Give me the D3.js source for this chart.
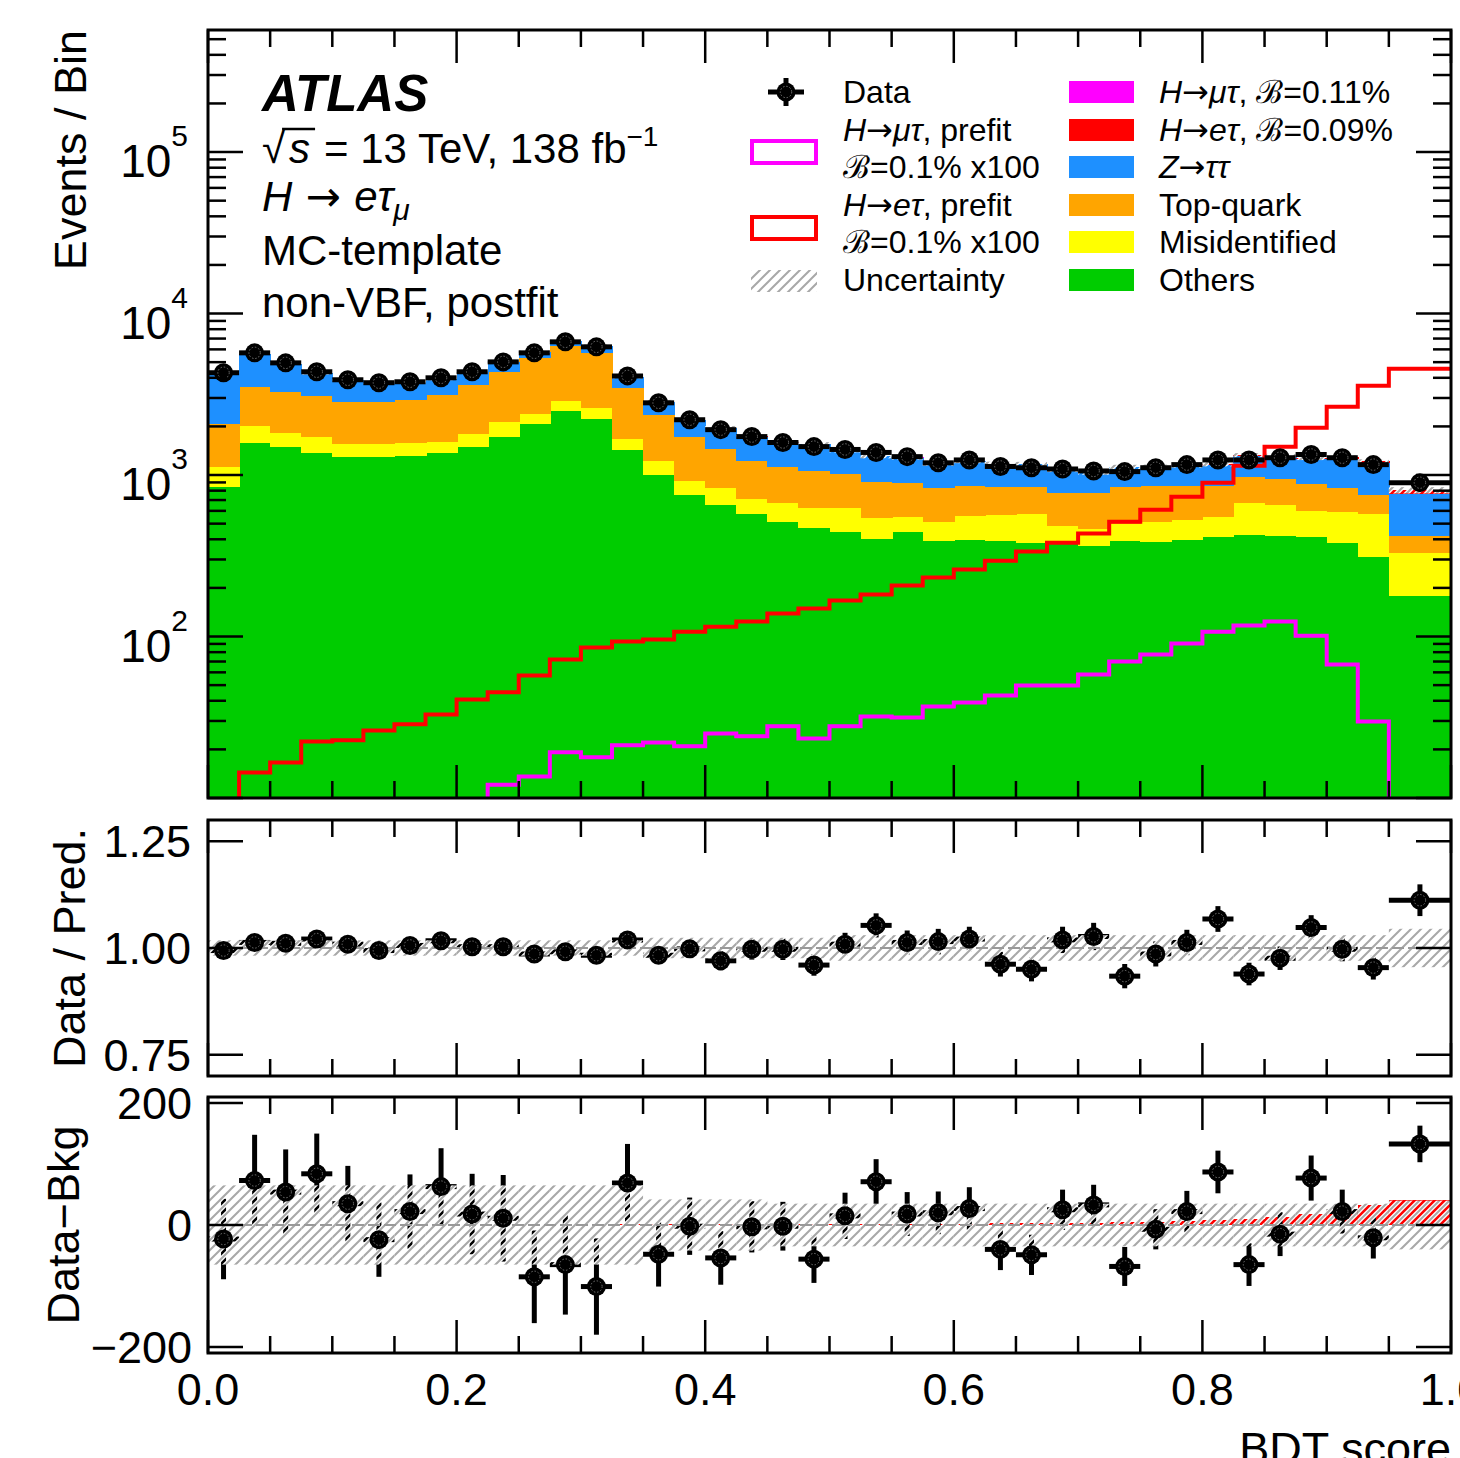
<!DOCTYPE html>
<html>
<head>
<meta charset="utf-8">
<script src="https://cdn.jsdelivr.net/npm/d3@7"></script>
<style>
  body { margin: 0; background: #fff; }
  svg { display: block; font-family: "Liberation Sans", Arial, Helvetica, sans-serif; }
</style>
</head>
<body>
<div id="chart"></div>
<script>
// bin edges of the BDT score
const binEdges = [0, 0.025, 0.05, 0.075, 0.1, 0.125, 0.15, 0.175, 0.2, 0.225, 0.25, 0.275, 0.3, 0.325, 0.35, 0.375, 0.4, 0.425, 0.45, 0.475,
                  0.5, 0.525, 0.55, 0.575, 0.6, 0.625, 0.65, 0.675, 0.7, 0.725, 0.75, 0.775, 0.8, 0.825, 0.85, 0.875, 0.9, 0.925, 0.95, 1.0];

const data = [4300, 5710, 4950, 4360, 3890, 3730, 3780, 4000, 4360, 5020, 5710, 6680, 6220, 4110, 2800, 2200, 1910, 1730, 1590, 1500,
              1440, 1380, 1300, 1190, 1240, 1130, 1110, 1090, 1060, 1050, 1110, 1160, 1240, 1240, 1280, 1340, 1280, 1160, 897];
const dataErr = [66, 75, 70, 66, 62, 61, 61, 63, 66, 71, 76, 82, 79, 64, 53, 47, 44, 42, 40, 39,
                 38, 37, 36, 35, 35, 34, 33, 33, 33, 32, 33, 34, 35, 35, 36, 37, 36, 34, 30];

// postfit backgrounds
const others = [847, 1585, 1497, 1375, 1298, 1298, 1317, 1375, 1497, 1727, 2077, 2500, 2231, 1435, 1005, 755, 655, 577, 514, 472,
                446, 404, 446, 393, 398, 393, 381, 376, 366, 393, 387, 398, 416, 428, 421, 416, 381, 312, 177];
const misid = [279, 433, 331, 352, 265, 265, 268, 233, 304, 411, 318, 384, 379, 242, 221, 168, 180, 137, 160, 156,
               182, 141, 107, 121, 162, 175, 196, 110, 100, 107, 127, 131, 137, 246, 234, 185, 212, 265, 154];
const topQuark = [951, 1501, 1447, 1370, 1279, 1279, 1339, 1533, 1820, 2219, 2923, 3426, 3104, 1792, 1136, 804, 620, 512, 452, 436,
                  391, 364, 344, 321, 299, 279, 270, 292, 312, 347, 345, 330, 306, 303, 294, 283, 242, 178, 90];
const ztautau = [2249, 2124, 1626, 1170, 1013, 905, 830, 791, 723, 652, 477, 434, 617, 567, 487, 476, 510, 506, 464, 495,
                 403, 397, 385, 339, 359, 325, 321, 293, 254, 271, 262, 279, 298, 338, 349, 373, 425, 428, 343];
// postfit signals
const sigETau = [0, 0.1, 0.15, 0.2, 0.2, 0.24, 0.26, 0.3, 0.37, 0.4, 0.5, 0.65, 0.77, 0.84, 0.86, 0.96, 1.0, 1.1, 1.25, 1.3,
                 1.5, 1.6, 1.9, 2.1, 2.3, 2.7, 3.0, 3.4, 3.9, 4.6, 5.5, 6.6, 8.1, 10, 13.5, 18, 24, 32, 41];
const sigMuTau = [0, 0, 0, 0, 0, 0, 0, 0, 0, 0.13, 0.15, 0.2, 0.2, 0.23, 0.24, 0.23, 0.28, 0.27, 0.3, 0.26,
                  0.3, 0.35, 0.35, 0.4, 0.43, 0.48, 0.55, 0.55, 0.64, 0.77, 0.85, 1.0, 1.2, 1.3, 1.4, 1.1, 0.74, 0.33, 0];
// prefit signals x100
const prefitETau = [0, 14.4, 16.6, 22.4, 22.8, 26.2, 28.6, 32.9, 40.8, 45.1, 57.4, 72.1, 85.5, 93.1, 95.8, 107, 115, 124, 139, 149,
                    167, 182, 207, 232, 260, 295, 336, 381, 434, 514, 610, 734, 897, 1142, 1497, 1963, 2647, 3569, 4548];
const prefitMuTau = [0, 0, 0, 0, 0, 0, 0, 0, 0, 12.1, 13.6, 19.2, 17.9, 21.2, 22.1, 20.9, 25.1, 24.1, 27.8, 23.4,
                     27.8, 32.0, 31.5, 36.9, 39.0, 43.2, 49.8, 49.8, 58.2, 70.0, 77.4, 90.5, 107, 117, 124, 101, 67.1, 29.8, 0];

// lower panels
const ratio = [0.994, 1.013, 1.011, 1.021, 1.009, 0.994, 1.006, 1.017, 1.003, 1.003, 0.986, 0.991, 0.983, 1.019, 0.983, 0.998, 0.970, 0.997, 0.997, 0.960,
               1.009, 1.053, 1.013, 1.015, 1.021, 0.962, 0.950, 1.019, 1.027, 0.934, 0.986, 1.013, 1.068, 0.939, 0.976, 1.048, 0.997, 0.954, 1.112];
const ratioUnc = [0.018, 0.018, 0.018, 0.018, 0.018, 0.018, 0.018, 0.018, 0.018, 0.018, 0.018, 0.018, 0.018, 0.018, 0.024, 0.024, 0.024, 0.024, 0.024, 0.024,
                  0.03, 0.03, 0.03, 0.03, 0.03, 0.03, 0.03, 0.03, 0.03, 0.03, 0.03, 0.03, 0.03, 0.03, 0.03, 0.03, 0.03, 0.03, 0.045];
const diff = [-23, 73, 54, 84, 35, -24, 22, 63, 18, 11, -85, -65, -101, 69, -48, -2, -54, -3, -2, -56,
              15, 71, 18, 20, 27, -40, -49, 25, 33, -68, -7, 22, 87, -65, -15, 77, 22, -21, 133];
const diffUnc = [65, 65, 65, 65, 65, 65, 65, 65, 65, 65, 65, 65, 65, 65, 42, 42, 42, 42, 35, 35,
                 35, 35, 35, 35, 35, 35, 35, 35, 35, 35, 35, 35, 35, 35, 35, 35, 35, 35, 40];

const xMajor = [0, 0.2, 0.4, 0.6, 0.8, 1.0];
const xLabels = ['0.0', '0.2', '0.4', '0.6', '0.8', '1.0'];
const ratioTicks = [0.75, 1.0, 1.25];
const ratioLabels = ['0.75', '1.00', '1.25'];
const diffTicks = [-200, 0, 200];
const diffLabels = ['\u2212200', '0', '200'];
const decades = [2, 3, 4, 5];

const colors = { others: '#00cc00', misid: '#ffff00', topQuark: '#ffa500', ztautau: '#1e90ff', sigETau: '#ff0000', sigMuTau: '#ff00ff' };

const W = 1460, H = 1458;
const L = 208, R = 1451;
const main = { top: 30, bottom: 798 };
const rat = { top: 820, bottom: 1076 };
const dif = { top: 1097, bottom: 1353 };

const x = d3.scaleLinear().domain([0, 1]).range([L, R]);
const yMain = d3.scaleLog().domain([10, 5.7e5]).range([main.bottom, main.top]);
const yRatio = d3.scaleLinear().domain([0.7, 1.3]).range([rat.bottom, rat.top]);
const yDiff = d3.scaleLinear().domain([-210, 210]).range([dif.bottom, dif.top]);
const yLog = v => yMain(Math.max(v, 1));

const svg = d3.select('#chart').append('svg').attr('width', W).attr('height', H);
const defs = svg.append('defs');

// hatch for the uncertainty band
const hatch = defs.append('pattern').attr('id', 'hatch')
  .attr('patternUnits', 'userSpaceOnUse').attr('width', 10).attr('height', 10);
const hp = 'M-2,2 L2,-2 M0,10 L10,0 M8,12 L12,8';
hatch.append('path').attr('d', hp).attr('stroke', '#fff').attr('stroke-width', 4.5);
hatch.append('path').attr('d', hp).attr('stroke', '#a8a8a8').attr('stroke-width', 2);

[['clipMain', main], ['clipRat', rat], ['clipDif', dif]].forEach(([id, p]) => {
  defs.append('clipPath').attr('id', id).append('rect')
    .attr('x', L).attr('y', p.top).attr('width', R - L).attr('height', p.bottom - p.top);
});

const bins = data.map((d, i) => ({
  i: i, x0: binEdges[i], x1: binEdges[i + 1],
  others: others[i], misid: misid[i], topQuark: topQuark[i], ztautau: ztautau[i],
  sigETau: sigETau[i], sigMuTau: sigMuTau[i]
}));
const keys = ['others', 'misid', 'topQuark', 'ztautau', 'sigETau', 'sigMuTau'];
const stacked = d3.stack().keys(keys)(bins);
const pred = bins.map(b => keys.reduce((s, k) => s + b[k], 0));

// ---------- main panel ----------
const gMain = svg.append('g').attr('clip-path', 'url(#clipMain)');
stacked.forEach(layer => {
  gMain.append('g').attr('shape-rendering', 'crispEdges')
    .selectAll('rect').data(layer).enter().append('rect')
    .attr('x', d => x(d.data.x0))
    .attr('width', d => x(d.data.x1) - x(d.data.x0) + 1)
    .attr('y', d => yLog(d[1]))
    .attr('height', d => Math.max(0, yLog(d[0]) - yLog(d[1])))
    .attr('fill', colors[layer.key]);
});
gMain.append('g').selectAll('rect').data(bins).enter().append('rect')
  .attr('x', d => x(d.x0)).attr('width', d => x(d.x1) - x(d.x0))
  .attr('y', (d, i) => yMain(pred[i] * (1 + ratioUnc[i])))
  .attr('height', (d, i) => yMain(pred[i] * (1 - ratioUnc[i])) - yMain(pred[i] * (1 + ratioUnc[i])))
  .attr('fill', 'url(#hatch)');

function stepPoints(vals) {
  const pts = vals.map((v, i) => [binEdges[i], v]);
  pts.push([binEdges[binEdges.length - 1], vals[vals.length - 1]]);
  return pts;
}
const stepLine = d3.line().x(d => x(d[0])).y(d => yLog(d[1])).curve(d3.curveStepAfter);
gMain.append('path').attr('d', stepLine(stepPoints(prefitMuTau)))
  .attr('fill', 'none').attr('stroke', '#ff00ff').attr('stroke-width', 4);
gMain.append('path').attr('d', stepLine(stepPoints(prefitETau)))
  .attr('fill', 'none').attr('stroke', '#ff0000').attr('stroke-width', 4);

function marker(g, cx, cy, r) {
  g.append('circle').attr('cx', cx).attr('cy', cy).attr('r', r).attr('fill', '#000');
  g.append('circle').attr('cx', cx).attr('cy', cy).attr('r', r * 0.6)
    .attr('fill', 'none').attr('stroke', '#8a8a8a').attr('stroke-width', 0.8).attr('stroke-dasharray', '1.5,1.8');
}

function dataBars(g, yFn, vals, errs) {
  g.append('g').selectAll('line').data(bins).enter().append('line')
    .attr('x1', d => x(d.x0)).attr('x2', d => x(d.x1))
    .attr('y1', (d, i) => yFn(vals[i])).attr('y2', (d, i) => yFn(vals[i]))
    .attr('stroke', '#000').attr('stroke-width', 5);
  g.append('g').selectAll('line').data(bins).enter().append('line')
    .attr('x1', d => x((d.x0 + d.x1) / 2)).attr('x2', d => x((d.x0 + d.x1) / 2))
    .attr('y1', (d, i) => yFn(vals[i] - errs[i])).attr('y2', (d, i) => yFn(vals[i] + errs[i]))
    .attr('stroke', '#000').attr('stroke-width', 5);
}
function dataMarkers(g, yFn, vals) {
  bins.forEach((d, i) => marker(g, x((d.x0 + d.x1) / 2), yFn(vals[i]), 9.5));
}
dataBars(gMain, yMain, data, dataErr);
dataMarkers(gMain, yMain, data);

// ---------- ratio panel ----------
const ratioErr = data.map((d, i) => dataErr[i] * ratio[i] / d);
const gRat = svg.append('g').attr('clip-path', 'url(#clipRat)');
dataBars(gRat, yRatio, ratio, ratioErr);
gRat.append('g').selectAll('rect').data(bins).enter().append('rect')
  .attr('x', d => x(d.x0)).attr('width', d => x(d.x1) - x(d.x0))
  .attr('y', (d, i) => yRatio(1 + ratioUnc[i]))
  .attr('height', (d, i) => yRatio(1 - ratioUnc[i]) - yRatio(1 + ratioUnc[i]))
  .attr('fill', 'url(#hatch)');
gRat.append('line').attr('x1', L).attr('x2', R).attr('y1', yRatio(1)).attr('y2', yRatio(1))
  .attr('stroke', '#999').attr('stroke-width', 2).attr('stroke-dasharray', '12,4');
dataMarkers(gRat, yRatio, ratio);

// ---------- data - bkg panel ----------
const gDif = svg.append('g').attr('clip-path', 'url(#clipDif)');
gDif.append('g').attr('shape-rendering', 'crispEdges')
  .selectAll('rect').data(bins).enter().append('rect')
  .attr('x', d => x(d.x0)).attr('width', d => x(d.x1) - x(d.x0) + 1)
  .attr('y', (d, i) => yDiff(sigETau[i]))
  .attr('height', (d, i) => yDiff(0) - yDiff(sigETau[i]))
  .attr('fill', '#ff0000');
dataBars(gDif, yDiff, diff, dataErr);
gDif.append('g').selectAll('rect').data(bins).enter().append('rect')
  .attr('x', d => x(d.x0)).attr('width', d => x(d.x1) - x(d.x0))
  .attr('y', (d, i) => yDiff(diffUnc[i]))
  .attr('height', (d, i) => yDiff(-diffUnc[i]) - yDiff(diffUnc[i]))
  .attr('fill', 'url(#hatch)');
gDif.append('line').attr('x1', L).attr('x2', R).attr('y1', yDiff(0)).attr('y2', yDiff(0))
  .attr('stroke', '#999').attr('stroke-width', 2).attr('stroke-dasharray', '12,4');
dataMarkers(gDif, yDiff, diff);

// ---------- axes, ticks, frames ----------
const axG = svg.append('g').attr('stroke', '#000').attr('stroke-width', 2.5);
function tick(x1, y1, x2, y2) {
  axG.append('line').attr('x1', x1).attr('y1', y1).attr('x2', x2).attr('y2', y2);
}
const xMinor = d3.range(1, 20).map(k => k * 0.05).filter(v => Math.abs(v / 0.2 - Math.round(v / 0.2)) > 1e-6);
function xTicks(p) {
  xMajor.forEach(v => { tick(x(v), p.bottom, x(v), p.bottom - 33); tick(x(v), p.top, x(v), p.top + 33); });
  xMinor.forEach(v => { tick(x(v), p.bottom, x(v), p.bottom - 17); tick(x(v), p.top, x(v), p.top + 17); });
}
function yTick(py, len) { tick(L, py, L + len, py); tick(R, py, R - len, py); }
[main, rat, dif].forEach(xTicks);
for (let e = 1; e <= 5; e++) {
  for (let k = 1; k <= 9; k++) {
    const v = k * Math.pow(10, e);
    if (v > yMain.domain()[1]) continue;
    yTick(yMain(v), k === 1 ? 35 : 18);
  }
}
ratioTicks.forEach(v => yTick(yRatio(v), 35));
diffTicks.forEach(v => yTick(yDiff(v), 35));
[main, rat, dif].forEach(p => {
  svg.append('rect').attr('x', L).attr('y', p.top).attr('width', R - L).attr('height', p.bottom - p.top)
    .attr('fill', 'none').attr('stroke', '#000').attr('stroke-width', 3);
});

// tick labels
const lab = svg.append('g').attr('fill', '#000').style('font-size', '45px');
decades.forEach(e => {
  const t = lab.append('text').attr('x', 188).attr('y', yMain(Math.pow(10, e)) + 25).attr('text-anchor', 'end');
  t.append('tspan').style('font-size', '46px').text('10');
  t.append('tspan').attr('dy', -31).style('font-size', '30px').text(e);
});
ratioTicks.forEach((v, i) => {
  lab.append('text').attr('x', 191).attr('y', yRatio(v) + 16).attr('text-anchor', 'end').text(ratioLabels[i]);
});
diffTicks.forEach((v, i) => {
  lab.append('text').attr('x', 192).attr('y', yDiff(v) + 16).attr('text-anchor', 'end').text(diffLabels[i]);
});
xMajor.forEach((v, i) => {
  lab.append('text').attr('x', x(v)).attr('y', 1405).attr('text-anchor', 'middle').text(xLabels[i]);
});
lab.append('text').attr('x', R).attr('y', 1464).attr('text-anchor', 'end').text('BDT score');
lab.append('text').attr('transform', 'translate(86,30) rotate(-90)').attr('text-anchor', 'end').text('Events / Bin');
lab.append('text').attr('transform', `translate(85,${yRatio(1)}) rotate(-90)`).attr('text-anchor', 'middle').text('Data / Pred.');
lab.append('text').attr('transform', `translate(79,${yDiff(0)}) rotate(-90)`).attr('text-anchor', 'middle').text('Data\u2212Bkg');

// ---------- ATLAS label ----------
const ARROW = '\u2192';
function rich(g, px, py, parts, size) {
  const t = g.append('text').attr('x', px).attr('y', py).style('font-size', size + 'px');
  parts.forEach(p => {
    const s = t.append('tspan').text(p.t);
    if (p.i) s.style('font-style', 'italic');
    if (p.fs) s.style('font-size', p.fs + 'px');
    if (p.dy) s.attr('dy', p.dy);
    if (p.t.indexOf(ARROW) >= 0) s.style('font-family', '"DejaVu Sans", sans-serif');
  });
  return t;
}
const info = svg.append('g').attr('fill', '#000');
info.append('text').attr('x', 262).attr('y', 111).style('font-size', '51px')
  .style('font-weight', 'bold').style('font-style', 'italic').text('ATLAS');

const t1 = info.append('text').attr('x', 262).attr('y', 163).style('font-size', '42px').text('\u221a');
const w1 = t1.node().getComputedTextLength();
const t2 = info.append('text').attr('x', 262 + w1 + 4).attr('y', 163).style('font-size', '42px').style('font-style', 'italic').text('s');
const w2 = t2.node().getComputedTextLength();
info.append('line').attr('x1', 262 + w1 - 3).attr('x2', 262 + w1 + w2 + 9).attr('y1', 129).attr('y2', 129)
  .attr('stroke', '#000').attr('stroke-width', 2.5);
rich(info, 262 + w1 + w2 + 18, 163, [{ t: '= 13 TeV, 138 fb' }, { t: '\u22121', fs: 28, dy: -17 }], 42);
rich(info, 262, 211, [{ t: 'H', i: 1 }, { t: ' ' + ARROW + ' ' }, { t: 'e\u03c4', i: 1 }, { t: '\u03bc', i: 1, fs: 30, dy: 9 }], 42);
info.append('text').attr('x', 262).attr('y', 265).style('font-size', '42px').text('MC-template');
info.append('text').attr('x', 262).attr('y', 317).style('font-size', '42px').text('non-VBF, postfit');

// ---------- legend ----------
const leg = svg.append('g').attr('fill', '#000');
const rowY = [103, 141, 178, 216, 253, 291];
// data entry
leg.append('line').attr('x1', 768).attr('x2', 804).attr('y1', 92).attr('y2', 92).attr('stroke', '#000').attr('stroke-width', 5);
leg.append('line').attr('x1', 786).attr('x2', 786).attr('y1', 78).attr('y2', 106).attr('stroke', '#000').attr('stroke-width', 5);
marker(leg, 786, 92, 9.5);
rich(leg, 843, rowY[0], [{ t: 'Data' }], 32);
leg.append('rect').attr('x', 752).attr('y', 141).attr('width', 64).attr('height', 22)
  .attr('fill', '#fff').attr('stroke', '#ff00ff').attr('stroke-width', 4);
rich(leg, 843, rowY[1], [{ t: 'H', i: 1 }, { t: ARROW }, { t: '\u03bc\u03c4', i: 1 }, { t: ', prefit' }], 32);
rich(leg, 843, rowY[2], [{ t: '\u212c' }, { t: '=0.1% x100' }], 32);
leg.append('rect').attr('x', 752).attr('y', 217).attr('width', 64).attr('height', 22)
  .attr('fill', '#fff').attr('stroke', '#ff0000').attr('stroke-width', 4);
rich(leg, 843, rowY[3], [{ t: 'H', i: 1 }, { t: ARROW }, { t: 'e\u03c4', i: 1 }, { t: ', prefit' }], 32);
rich(leg, 843, rowY[4], [{ t: '\u212c' }, { t: '=0.1% x100' }], 32);
leg.append('rect').attr('x', 751).attr('y', 270).attr('width', 66).attr('height', 22).attr('fill', 'url(#hatch)');
rich(leg, 843, rowY[5], [{ t: 'Uncertainty' }], 32);

const rightEntries = [
  { key: 'sigMuTau', parts: [{ t: 'H', i: 1 }, { t: ARROW }, { t: '\u03bc\u03c4', i: 1 }, { t: ', \u212c=0.11%' }] },
  { key: 'sigETau', parts: [{ t: 'H', i: 1 }, { t: ARROW }, { t: 'e\u03c4', i: 1 }, { t: ', \u212c=0.09%' }] },
  { key: 'ztautau', parts: [{ t: 'Z', i: 1 }, { t: ARROW }, { t: '\u03c4\u03c4', i: 1 }] },
  { key: 'topQuark', parts: [{ t: 'Top-quark' }] },
  { key: 'misid', parts: [{ t: 'Misidentified' }] },
  { key: 'others', parts: [{ t: 'Others' }] }
];
rightEntries.forEach((e, i) => {
  leg.append('rect').attr('x', 1069).attr('y', rowY[i] - 22).attr('width', 65).attr('height', 22).attr('fill', colors[e.key]);
  rich(leg, 1159, rowY[i], e.parts, 32);
});
</script>
</body>
</html>
